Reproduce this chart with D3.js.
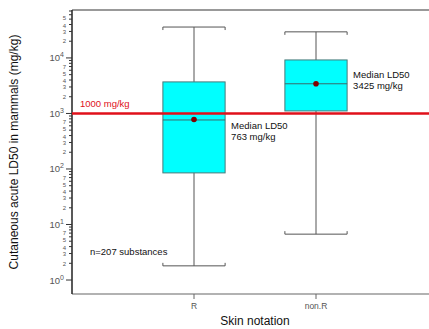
<!DOCTYPE html>
<html>
<head>
<meta charset="utf-8">
<script src="https://cdn.jsdelivr.net/npm/d3@7"></script>
<style>
  body { margin: 0; background: #fff; }
  svg { display: block; font-family: "Liberation Sans", Arial, sans-serif; }
</style>
</head>
<body>
<div id="chart"></div>
<script>
const width = 429;
const height = 329;
const margin = { top: 10, bottom: 35, left: 72, right: -9 };

// box statistics (mg/kg)
const groups = ['R', 'non.R'];
const whiskerLow = [1.8, 6.7];
const q1 = [85, 1110];
const medians = [763, 3425];
const q3 = [3700, 9200];
const whiskerHigh = [36000, 29500];
const means = [780, 3425];
const medianLabels = ['763 mg/kg', '3425 mg/kg'];

const threshold = 1000;
const thresholdLabel = '1000 mg/kg';
const countLabel = 'n=207 substances';
const majorTicks = [1, 10, 100, 1000, 10000];
const minorMults = [2, 3, 4, 5, 6, 7, 8, 9];
const minorLabelled = [2, 3, 4, 5, 7];

const svg = d3.select('#chart').append('svg')
    .attr('width', width)
    .attr('height', height);

const x = d3.scalePoint()
    .domain(groups)
    .range([margin.left, width - margin.right])
    .padding(1);

const y = d3.scaleLog()
    .domain([0.56, 73000])
    .range([height - margin.bottom, margin.top]);

const boxW = x.step() * 0.51;

// frame: top line and bottom axis line
svg.append('line')
    .attr('x1', margin.left).attr('x2', width)
    .attr('y1', margin.top).attr('y2', margin.top)
    .attr('stroke', '#777').attr('stroke-width', 1.5);
svg.append('line')
    .attr('x1', margin.left).attr('x2', width)
    .attr('y1', height - margin.bottom).attr('y2', height - margin.bottom)
    .attr('stroke', '#999').attr('stroke-width', 1.5);

// y axis
const yAxisG = svg.append('g');
yAxisG.append('line')
    .attr('x1', margin.left).attr('x2', margin.left)
    .attr('y1', margin.top).attr('y2', height - margin.bottom)
    .attr('stroke', '#222').attr('stroke-width', 1.5);

const minorVals = [];
for (const m of majorTicks) {
  for (const k of minorMults) {
    const v = m * k;
    if (v < y.domain()[1]) minorVals.push({ v, k });
  }
}

yAxisG.selectAll('.minor')
    .data(minorVals)
    .join('line')
    .attr('x1', margin.left - 3).attr('x2', margin.left)
    .attr('y1', d => y(d.v)).attr('y2', d => y(d.v))
    .attr('stroke', '#333');

// labels of 4 and 5 sit very close, as in the reference; nudge them apart a little
const nudge = { 4: 1, 5: -1 };
yAxisG.selectAll('.minorLab')
    .data(minorVals.filter(d => minorLabelled.includes(d.k) && d.v < 60000))
    .join('text')
    .attr('x', margin.left - 6)
    .attr('y', d => y(d.v) + 2.2 + (nudge[d.k] || 0))
    .attr('text-anchor', 'end')
    .attr('font-size', 6)
    .attr('fill', '#555')
    .text(d => d.k);

yAxisG.selectAll('.major')
    .data(majorTicks)
    .join('line')
    .attr('x1', margin.left - 6).attr('x2', margin.left)
    .attr('y1', d => y(d)).attr('y2', d => y(d))
    .attr('stroke', '#333');

const majorLab = yAxisG.selectAll('.majorLab')
    .data(majorTicks)
    .join('text')
    .attr('x', margin.left - 8)
    .attr('y', d => y(d) + 3.5)
    .attr('text-anchor', 'end')
    .attr('font-size', 9.5)
    .attr('fill', '#555');
majorLab.append('tspan').text('10');
majorLab.append('tspan')
    .attr('dy', -4)
    .attr('font-size', 7)
    .text(d => Math.round(Math.log10(d)));

// y axis title
svg.append('text')
    .attr('transform', `translate(18, ${(margin.top + height - margin.bottom) / 2}) rotate(-90)`)
    .attr('text-anchor', 'middle')
    .attr('font-size', 12)
    .attr('fill', '#111')
    .text('Cutaneous acute LD50 in mammals (mg/kg)');

// x axis ticks and labels
const xAxisG = svg.append('g');
xAxisG.selectAll('line')
    .data(groups)
    .join('line')
    .attr('x1', d => x(d)).attr('x2', d => x(d))
    .attr('y1', height - margin.bottom).attr('y2', height - margin.bottom + 5)
    .attr('stroke', '#666');
xAxisG.selectAll('text')
    .data(groups)
    .join('text')
    .attr('x', d => x(d))
    .attr('y', height - margin.bottom + 15)
    .attr('text-anchor', 'middle')
    .attr('font-size', 8.5)
    .attr('fill', '#555')
    .text(d => d);

svg.append('text')
    .attr('x', (x('R') + x('non.R')) / 2)
    .attr('y', height - 4)
    .attr('text-anchor', 'middle')
    .attr('font-size', 12)
    .attr('fill', '#111')
    .text('Skin notation');

// boxes
const boxes = groups.map((g, i) => ({
  g, lo: whiskerLow[i], q1: q1[i], med: medians[i], q3: q3[i],
  hi: whiskerHigh[i], mean: means[i], label: medianLabels[i]
}));

const bg = svg.append('g').selectAll('g')
    .data(boxes)
    .join('g');

// whisker stems
bg.append('line')
    .attr('x1', d => x(d.g)).attr('x2', d => x(d.g))
    .attr('y1', d => y(d.hi)).attr('y2', d => y(d.lo))
    .attr('stroke', '#555');

// whisker caps with small end ticks
for (const key of ['hi', 'lo']) {
  const dir = key === 'hi' ? 1 : -1;
  bg.append('path')
      .attr('fill', 'none')
      .attr('stroke', '#555')
      .attr('d', d => {
        const yy = y(d[key]);
        const l = x(d.g) - boxW / 2, r = x(d.g) + boxW / 2;
        return `M${l},${yy + dir * 3}V${yy}H${r}V${yy + dir * 3}`;
      });
}

bg.append('rect')
    .attr('x', d => x(d.g) - boxW / 2)
    .attr('width', boxW)
    .attr('y', d => y(d.q3))
    .attr('height', d => y(d.q1) - y(d.q3))
    .attr('fill', '#00ffff')
    .attr('stroke', '#4a7a7a')
    .attr('stroke-width', 1);

bg.append('line')
    .attr('x1', d => x(d.g) - boxW / 2).attr('x2', d => x(d.g) + boxW / 2)
    .attr('y1', d => y(d.med)).attr('y2', d => y(d.med))
    .attr('stroke', '#3a6a6a');

// threshold line
svg.append('line')
    .attr('x1', margin.left).attr('x2', width)
    .attr('y1', y(threshold)).attr('y2', y(threshold))
    .attr('stroke', '#e0101a').attr('stroke-width', 2.5);
svg.append('text')
    .attr('x', margin.left + 8)
    .attr('y', y(threshold) - 6)
    .attr('font-size', 9.5)
    .attr('fill', '#e0101a')
    .text(thresholdLabel);

// mean dots
bg.append('circle')
    .attr('cx', d => x(d.g))
    .attr('cy', d => y(d.mean))
    .attr('r', 2.8)
    .attr('fill', '#800000');

// median annotations
const ann = bg.append('text')
    .attr('x', d => x(d.g) + boxW / 2 + 6)
    .attr('y', d => y(d.med) + 9)
    .attr('font-size', 9.5)
    .attr('fill', '#111');
ann.append('tspan').text('Median LD50');
ann.append('tspan')
    .attr('x', d => x(d.g) + boxW / 2 + 6)
    .attr('dy', 11)
    .text(d => d.label);

ann.filter(d => d.g === 'non.R')
    .attr('y', d => y(d.med) - 6);

svg.append('text')
    .attr('x', 90)
    .attr('y', y(3.2) + 3)
    .attr('font-size', 9.5)
    .attr('fill', '#111')
    .text(countLabel);
</script>
</body>
</html>
